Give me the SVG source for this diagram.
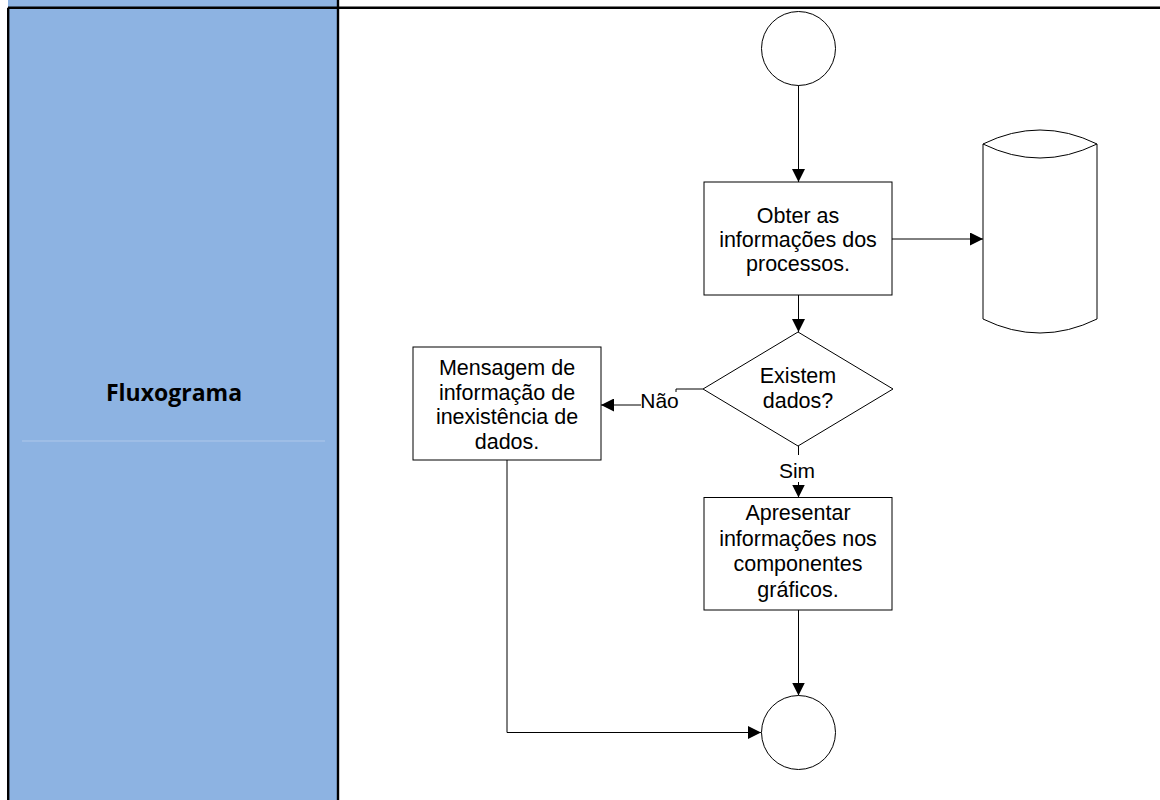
<svg xmlns="http://www.w3.org/2000/svg" width="1160" height="800" viewBox="0 0 1160 800">
<style>
.shape{fill:#fff;stroke:#000;stroke-width:1}
.conn{fill:none;stroke:#000;stroke-width:1}
.t{font-family:"Liberation Sans",Arial,sans-serif;font-size:21.5px;fill:#000;text-anchor:middle}
.lbl{font-family:"Liberation Sans",Arial,sans-serif;font-size:21px;fill:#000;text-anchor:middle}
.title{font-family:"Open Sans","Noto Sans",sans-serif;font-weight:bold;font-size:23px;fill:#000;text-anchor:middle}
.frame{stroke:#000;stroke-width:2.4;fill:none}
</style>
<defs>
<marker id="arr" markerUnits="userSpaceOnUse" markerWidth="14" markerHeight="13" refX="13" refY="6.5" orient="auto">
<path d="M0,0 L13,6.5 L0,13 Z" fill="#000"/>
</marker>
</defs>
<rect width="1160" height="800" fill="#fff"/>
<g id="lane">
<rect x="8" y="0" width="331" height="800" fill="#8DB3E2"/>
<line x1="22" y1="441" x2="325" y2="441" stroke="#AFC8EA" stroke-width="1"/>
<line class="frame" x1="8" y1="7.7" x2="1160" y2="7.7"/>
<line class="frame" x1="8.2" y1="7.7" x2="8.2" y2="800"/>
<line class="frame" x1="338" y1="0" x2="338" y2="800"/>
<text class="title" x="174" y="400.5">Fluxograma</text>
</g>
<g id="connectors">
<line class="conn" x1="798.5" y1="85" x2="798.5" y2="182" marker-end="url(#arr)"/>
<line class="conn" x1="892" y1="239" x2="983" y2="239" marker-end="url(#arr)"/>
<line class="conn" x1="798.5" y1="295" x2="798.5" y2="332" marker-end="url(#arr)"/>
<path class="conn" d="M703,389 H676 V405 H601" marker-end="url(#arr)"/>
<path class="conn" d="M798.5,446 V497.5" marker-end="url(#arr)"/>
<line class="conn" x1="798.5" y1="610" x2="798.5" y2="695.5" marker-end="url(#arr)"/>
<path class="conn" d="M507,460 V732.5 H761" marker-end="url(#arr)"/>
<g id="label-nao">
<rect x="641" y="392" width="37" height="22" fill="#fff"/>
<text class="lbl" x="659.5" y="408">Não</text>
</g>
<g id="label-sim">
<rect x="779" y="455" width="36" height="27" fill="#fff"/>
<text class="lbl" x="797" y="478">Sim</text>
</g>
</g>
<g id="start">
<circle class="shape" cx="798.5" cy="48.5" r="37"/>
</g>
<g id="obter">
<rect class="shape" x="704" y="182" width="188" height="113"/>
<text class="t" x="798" y="223">Obter as</text>
<text class="t" x="798" y="247">informações dos</text>
<text class="t" x="798" y="271">processos.</text>
</g>
<g id="database">
<path class="shape" d="M983,144 Q1040,116 1097,144 V319 Q1040,347 983,319 Z"/>
<path class="conn" d="M983,144 Q1040,172 1097,144"/>
</g>
<g id="decision">
<polygon class="shape" points="798,332 893,389 798,446 703,389"/>
<text class="t" x="798" y="383">Existem</text>
<text class="t" x="798" y="408">dados?</text>
</g>
<g id="mensagem">
<rect class="shape" x="413" y="347" width="188" height="113"/>
<text class="t" x="507" y="375">Mensagem de</text>
<text class="t" x="507" y="399.5">informação de</text>
<text class="t" x="507" y="424">inexistência de</text>
<text class="t" x="507" y="448.5">dados.</text>
</g>
<g id="apresentar">
<rect class="shape" x="704" y="497.5" width="188" height="112.5"/>
<text class="t" x="798" y="520">Apresentar</text>
<text class="t" x="798" y="545.5">informações nos</text>
<text class="t" x="798" y="571">componentes</text>
<text class="t" x="798" y="596.5">gráficos.</text>
</g>
<g id="end">
<circle class="shape" cx="798.5" cy="732.5" r="37"/>
</g>
</svg>
